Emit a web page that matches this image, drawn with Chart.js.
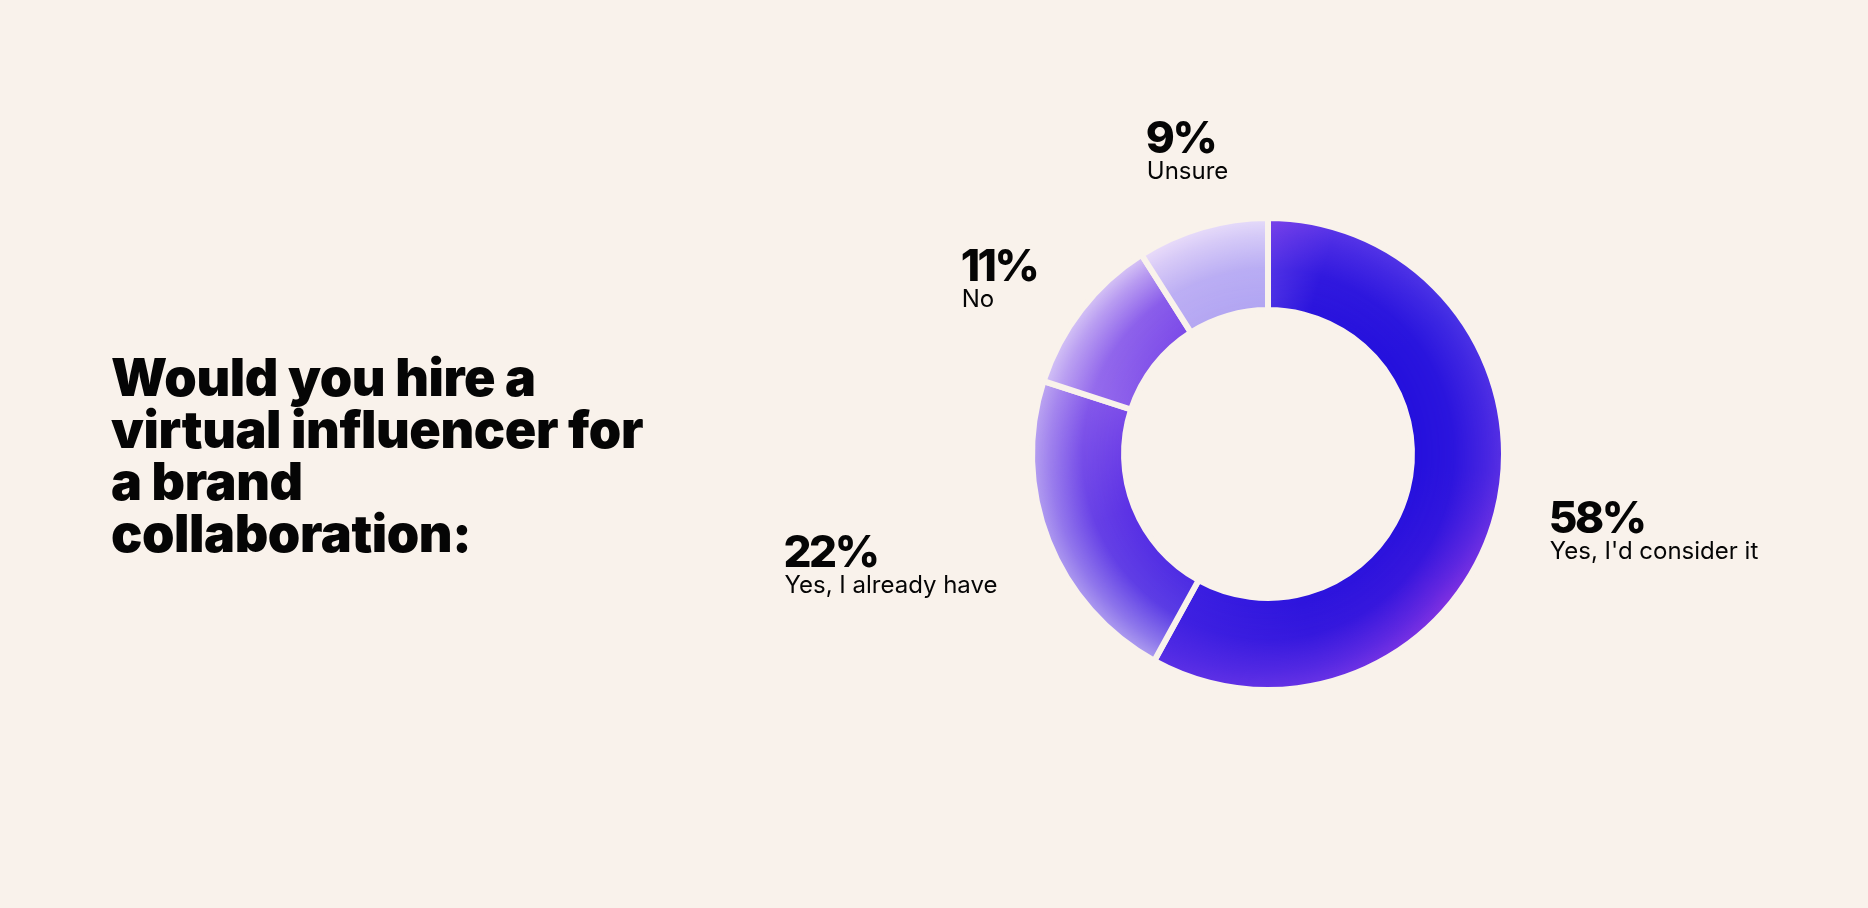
<!DOCTYPE html>
<html>
<head>
<meta charset="utf-8">
<script src="https://cdn.jsdelivr.net/npm/chart.js@4.4.1/dist/chart.umd.min.js"></script>
<style>
    html, body { margin: 0; padding: 0; background: #f9f2eb; overflow: hidden; }
    #wrap { position: relative; width: 1868px; height: 908px; }
    #donut { position: absolute; left: 0; top: 0; }
    #title {
        position: absolute; left: 111px; top: 352px; margin: 0;
        font-family: Inter, sans-serif; font-weight: 900; font-size: 52px;
        line-height: 52px; letter-spacing: -0.4px; color: #050505;
    }
</style>
</head>
<body>
<div id="wrap">
    <canvas id="donut" width="1868" height="908"></canvas>
    <h1 id="title">Would you hire a<br>virtual influencer for<br>a brand<br>collaboration:</h1>
</div>
<script>
// Survey answers, clockwise from 12 o'clock
const categories = ["Yes, I'd consider it", "Yes, I already have", "No", "Unsure"];
const shares = [58, 22, 11, 9];
const shareLabels = ["58%", "22%", "11%", "9%"];

const bgColor = '#f9f2eb';

// colour ramps for each slice: [position in slice, outer edge colour, inner edge colour]
const sliceRamps = [
    [[0, '#7c42ea', '#4a30e4'], [0.08, '#5a36e8', '#2a14dc'], [0.25, '#4a34e6', '#2410dc'],
     [0.45, '#5a30e4', '#2410dc'], [0.62, '#8432e2', '#2a12dc'], [0.8, '#6a34e6', '#2c14dc'], [1, '#5a30e6', '#3a1ee0']],
    [[0, '#b0a0f0', '#4a2ae2'], [0.5, '#b09cf0', '#5a30e4'], [1, '#c0aaf2', '#7a4ae8']],
    [[0, '#d4c4f6', '#8a5cea'], [1, '#dac8f6', '#7a48e8']],
    [[0, '#ecdefa', '#b4a6f2'], [1, '#e6dcfa', '#b0a4f2']]
];

let ringPattern = null;

// paint the ring texture once: an outer and an inner conic ramp blended by radius
function buildPattern(chart, rIn, rOut) {
    const area = chart.chartArea;
    const cx = (area.left + area.right) / 2;
    const cy = (area.top + area.bottom) / 2;
    const w = chart.width, h = chart.height;
    const total = shares.reduce((a, b) => a + b, 0);

    const outerG = [], innerG = [];
    let acc = 0;
    shares.forEach((v, i) => {
        const start = acc / total, span = v / total;
        sliceRamps[i].forEach(([t, o, n]) => {
            let p = start + t * span;
            // keep slices separate at their edges
            if (t === 0) p += 0.0005;
            if (t === 1) p -= 0.0005;
            outerG.push([Math.min(Math.max(p, 0), 1), o]);
            innerG.push([Math.min(Math.max(p, 0), 1), n]);
        });
        acc += v;
    });

    const a = document.createElement('canvas');
    a.width = w; a.height = h;
    const actx = a.getContext('2d');
    const g1 = actx.createConicGradient(-Math.PI / 2, cx, cy);
    outerG.forEach(([p, c]) => g1.addColorStop(p, c));
    actx.fillStyle = g1;
    actx.fillRect(0, 0, w, h);

    const b = document.createElement('canvas');
    b.width = w; b.height = h;
    const bctx = b.getContext('2d');
    const g2 = bctx.createConicGradient(-Math.PI / 2, cx, cy);
    innerG.forEach(([p, c]) => g2.addColorStop(p, c));
    bctx.fillStyle = g2;
    bctx.fillRect(0, 0, w, h);
    bctx.globalCompositeOperation = 'destination-in';
    const rg = bctx.createRadialGradient(cx, cy, rIn, cx, cy, rOut);
    rg.addColorStop(0, 'rgba(0,0,0,1)');
    rg.addColorStop(0.45, 'rgba(0,0,0,0.85)');
    rg.addColorStop(0.8, 'rgba(0,0,0,0.35)');
    rg.addColorStop(1, 'rgba(0,0,0,0)');
    bctx.fillStyle = rg;
    bctx.fillRect(0, 0, w, h);

    actx.drawImage(b, 0, 0);
    return chart.ctx.createPattern(a, 'no-repeat');
}

// percentage + answer text outside each slice
const sliceLabels = {
    id: 'sliceLabels',
    afterDatasetsDraw(chart) {
        const ctx = chart.ctx;
        const meta = chart.getDatasetMeta(0);
        const pctFont = '800 44px Inter', pctSpacing = '-2.5px';
        const txtFont = '400 24px Inter', txtSpacing = '0px';
        ctx.save();
        ctx.fillStyle = '#050505';
        ctx.textBaseline = 'alphabetic';
        ctx.textAlign = 'left';
        meta.data.forEach((arc, i) => {
            const p = arc.getProps(['x', 'y', 'startAngle', 'endAngle', 'outerRadius'], true);
            const mid = (p.startAngle + p.endAngle) / 2;
            const dist = p.outerRadius + 56;
            const ax = p.x + Math.cos(mid) * dist;
            const ay = p.y + Math.sin(mid) * dist;

            ctx.font = pctFont;
            ctx.letterSpacing = pctSpacing;
            const wPct = ctx.measureText(shareLabels[i]).width;
            ctx.font = txtFont;
            ctx.letterSpacing = txtSpacing;
            const wTxt = ctx.measureText(categories[i]).width;
            const blockW = Math.max(wPct, wTxt);

            let left, base;
            const c = Math.cos(mid), s = Math.sin(mid);
            if (s < -0.8) {
                left = ax - blockW / 2;
                base = ay - 21;
            } else if (c > 0) {
                left = ax - 2;
                base = ay + 6;
            } else {
                left = ax - blockW;
                base = ay + 6;
            }

            ctx.font = pctFont;
            ctx.letterSpacing = pctSpacing;
            ctx.fillText(shareLabels[i], left, base);
            ctx.font = txtFont;
            ctx.letterSpacing = txtSpacing;
            ctx.fillText(categories[i], left + 1, base + 26);
        });
        ctx.restore();
    }
};

const ctx = document.getElementById('donut').getContext('2d');

const donutChart = new Chart(ctx, {
    type: 'doughnut',
    data: {
        labels: categories,
        datasets: [{
            data: shares,
            backgroundColor: (context) => {
                const chart = context.chart;
                const ctrl = chart.getDatasetMeta(0).controller;
                if (!chart.chartArea || !ctrl || !isFinite(ctrl.innerRadius) || !isFinite(ctrl.outerRadius)) {
                    return '#2a12dc';
                }
                if (!ringPattern) ringPattern = buildPattern(chart, ctrl.innerRadius, ctrl.outerRadius);
                return ringPattern;
            },
            borderColor: bgColor,
            borderWidth: 6,
            hoverOffset: 0
        }]
    },
    options: {
        responsive: false,
        animation: false,
        radius: 236,
        cutout: '61%',
        layout: { padding: { left: 668, right: 0, top: 0, bottom: 0 } },
        plugins: {
            legend: { display: false },
            tooltip: { enabled: false }
        }
    },
    plugins: [sliceLabels]
});
</script>
</body>
</html>
